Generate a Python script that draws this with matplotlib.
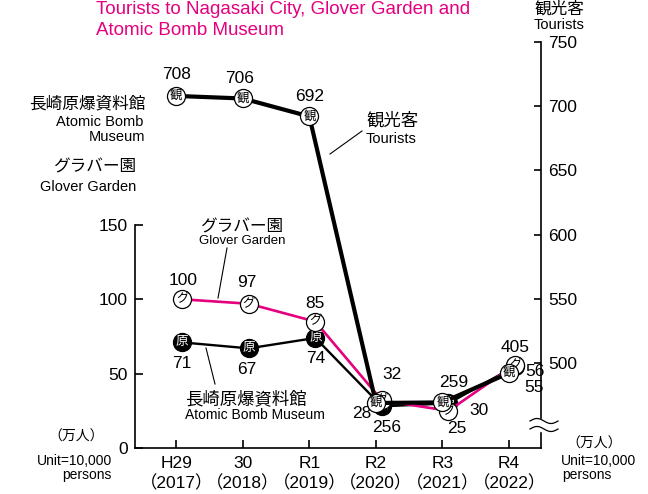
import numpy as np
import matplotlib
matplotlib.use("Agg")
import matplotlib.pyplot as plt
from matplotlib.lines import Line2D
from matplotlib.patches import Rectangle
from matplotlib.transforms import ScaledTranslation

plt.rcParams['font.family'] = ['Liberation Sans', 'Noto Sans CJK JP']

# data
years = ["H29\n（2017）", "30\n（2018）", "R1\n（2019）",
         "R2\n（2020）", "R3\n（2021）", "R4\n（2022）"]
tourists = [708, 706, 692, 256, 259, 405]
glover = [100, 97, 85, 32, 25, 56]
museum = [71, 67, 74, 28, 30, 55]

# label offsets in pixels (dx, dy)
tourist_off = [(0, 21), (-3, 20), (0, 20), (11, -24), (11, 20), (6, 26)]
glover_off = [(1, 19), (-2, 21), (0, 18), (10, 26), (8, -18), (20, -7)]
museum_off = [(0, -21), (-2, -21), (0, -21), (-20, -7), (30, -7), (19, -21)]

MAGENTA = "#e4007f"
W, H = 648, 494


def px(x, y):
    """pixel position (from top-left) to figure fraction"""
    return x / W, 1 - y / H


fig = plt.figure(figsize=(6.48, 4.94), dpi=100)
ax = fig.add_axes([135 / W, 1 - 448 / H, (541 - 135) / W, (448 - 42) / H])
ax2 = ax.twinx()

x = np.arange(len(years))
ax.set_xlim(-0.62, 5.48)
ax.set_ylim(0, 273)

# broken scale for the tourist axis
kv = [0, 256, 405, 500, 750, 1000]
kp = [0, 45, 75, 85, 406, 727]


def fwd(v):
    return np.interp(v, kv, kp)


def inv(p):
    return np.interp(p, kp, kv)


ax2.set_yscale('function', functions=(fwd, inv))
ax2.set_ylim(0, 750)

# spines and ticks
for s in ["top", "right"]:
    ax.spines[s].set_visible(False)
ax.spines["left"].set_bounds(0, 150)
for s in ["top", "left", "bottom"]:
    ax2.spines[s].set_visible(False)
for a in (ax, ax2):
    for sp in a.spines.values():
        sp.set_linewidth(1.2)

ax.set_yticks([0, 50, 100, 150])
ax.tick_params(axis='y', direction='in', length=6, width=1.2, labelsize=12.5, pad=5)
ax.set_xticks(x)
ax.set_xticklabels(years, linespacing=1.25)
ax.tick_params(axis='x', direction='in', length=6, width=1.2, labelsize=12.5, pad=6)

ax2.set_yticks([500, 550, 600, 650, 700, 750])
ax2.set_yticklabels(["500", "550", "600", "650", "700", "750"])
ax2.yaxis.set_minor_locator(plt.NullLocator())
ax2.tick_params(axis='y', direction='in', length=5, width=1.2, labelsize=12.5, pad=5)

shift = ax.transData + ScaledTranslation(6 / 100, 0, fig.dpi_scale_trans)

# lines (museum under glover, tourists on top)
ax.plot(x, museum, color='black', lw=1.7, transform=shift, zorder=2,
        marker='o', ms=13, mfc='black', mec='black', mew=0.9)
ax.plot(x, glover, color=MAGENTA, lw=1.9, transform=shift, zorder=3,
        marker='o', ms=13, mfc='white', mec='black', mew=0.9)
ax2.plot(x, tourists, color='black', lw=3.0, zorder=2,
         marker='o', ms=13, mfc='white', mec='black', mew=0.9)

# glyphs inside markers and value labels
for xi, v, off in zip(x, museum, museum_off):
    ax.text(xi, v, "原", transform=shift, ha='center', va='center',
            fontsize=9, color='white', zorder=2.5)
    ax.annotate(str(v), (xi, v), xycoords=shift, xytext=off,
                textcoords='offset pixels', ha='center', va='center',
                fontsize=12.5)
for xi, v, off in zip(x, glover, glover_off):
    ax.text(xi, v, "グ", transform=shift, ha='center', va='center',
            fontsize=9, zorder=3.5)
    ax.annotate(str(v), (xi, v), xycoords=shift, xytext=off,
                textcoords='offset pixels', ha='center', va='center',
                fontsize=12.5)
for xi, v, off in zip(x, tourists, tourist_off):
    ax2.text(xi, v, "観", ha='center', va='center', fontsize=9, zorder=4)
    ax2.annotate(str(v), (xi, v), xytext=off,
                 textcoords='offset pixels', ha='center', va='center',
                 fontsize=12.5)

# title
fig.text(*px(96, 1), "Tourists to Nagasaki City, Glover Garden and\nAtomic Bomb Museum",
         color=MAGENTA, fontsize=13.5, ha='left', va='top', linespacing=1.3)

# right axis header
fig.text(*px(534, 9), "観光客", fontsize=12, ha='left', va='center')
fig.text(*px(534, 25), "Tourists", fontsize=10.5, ha='left', va='center')

# left side labels
fig.text(*px(145, 104), "長崎原爆資料館", fontsize=12, ha='right', va='center')
fig.text(*px(143, 122), "Atomic Bomb", fontsize=10.5, ha='right', va='center')
fig.text(*px(145, 137), "Museum", fontsize=10.5, ha='right', va='center')
fig.text(*px(136, 167), "グラバー園", fontsize=12, ha='right', va='center')
fig.text(*px(136, 187), "Glover Garden", fontsize=10.5, ha='right', va='center')

# in-chart callouts
fig.text(*px(242, 227), "グラバー園", fontsize=12, ha='center', va='center')
fig.text(*px(242, 241), "Glover Garden", fontsize=9.5, ha='center', va='center')
fig.add_artist(Line2D(*zip(px(218, 298), px(227, 248)), color='black', lw=0.8))

fig.text(*px(185, 399), "長崎原爆資料館", fontsize=12.5, ha='left', va='center')
fig.text(*px(185, 415), "Atomic Bomb Museum", fontsize=10, ha='left', va='center')
fig.add_artist(Line2D(*zip(px(206, 348), px(215, 384)), color='black', lw=0.8))

fig.text(*px(366, 120), "観光客", fontsize=12.5, ha='left', va='center')
fig.text(*px(366, 139), "Tourists", fontsize=10.5, ha='left', va='center')
fig.add_artist(Line2D(*zip(px(330, 154), px(362, 131)), color='black', lw=0.8))

# units
fig.text(*px(104, 437), "（万人）", fontsize=10, ha='right', va='center')
fig.text(*px(112, 461), "Unit=10,000", fontsize=10, ha='right', va='center')
fig.text(*px(112, 475), "persons", fontsize=10, ha='right', va='center')
fig.text(*px(566, 444), "（万人）", fontsize=10, ha='left', va='center')
fig.text(*px(561, 461), "Unit=10,000", fontsize=10, ha='left', va='center')
fig.text(*px(562, 475), "persons", fontsize=10, ha='left', va='center')

# axis break mark on the right spine
bx0, by0 = px(530, 431)
bx1, by1 = px(560, 419)
fig.add_artist(Rectangle((bx0, by0), bx1 - bx0, by1 - by0,
                         transform=fig.transFigure, color='white', zorder=5))
t = np.linspace(0, 1, 60)
for yc in (421, 429):
    xs = 530 + 28 * t
    ys = yc - 2.5 * np.sin(2 * np.pi * t)
    fig.add_artist(Line2D(xs / W, 1 - ys / H, color='black', lw=0.9, zorder=6))

fig.savefig("out.png", dpi=100)
